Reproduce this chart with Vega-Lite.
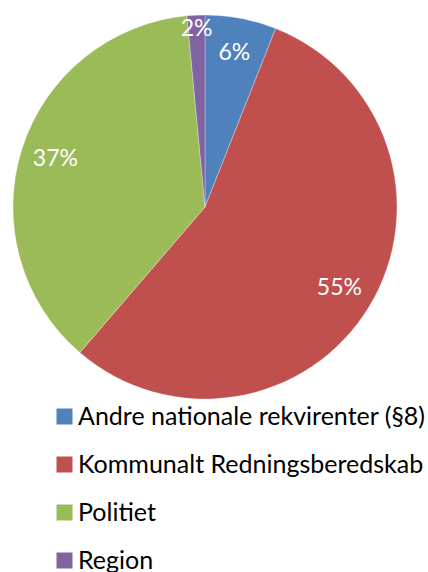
{
  "$schema": "https://vega.github.io/schema/vega-lite/v6.json",
  "width": 410,
  "height": 414,
  "padding": 0,
  "autosize": {"type": "pad"},
  "background": "white",
  "data": {
    "values": [
      {"category": "Andre nationale rekvirenter (§8)", "value": 6.0, "label": "6%", "order": 1},
      {"category": "Kommunalt Redningsberedskab", "value": 55.3, "label": "55%", "order": 2},
      {"category": "Politiet", "value": 37.2, "label": "37%", "order": 3},
      {"category": "Region", "value": 1.5, "label": "2%", "order": 4}
    ]
  },
  "encoding": {
    "theta": {"field": "value", "type": "quantitative", "stack": true},
    "order": {"field": "order", "type": "quantitative"},
    "color": {
      "field": "category",
      "type": "nominal",
      "scale": {
        "domain": ["Andre nationale rekvirenter (§8)", "Kommunalt Redningsberedskab", "Politiet", "Region"],
        "range": ["#4F81BD", "#C0504D", "#9BBB59", "#8064A2"]
      },
      "legend": {
        "title": null,
        "orient": "none",
        "legendX": 52,
        "legendY": 404,
        "symbolType": "square",
        "symbolSize": 256,
        "symbolStrokeWidth": 0,
        "symbolOpacity": 1,
        "labelFont": "Lato",
        "labelFontSize": 25,
        "labelColor": "#000000",
        "labelOffset": 1,
        "labelLimit": 400,
        "rowPadding": 22
      }
    }
  },
  "layer": [
    {
      "mark": {"type": "arc", "radius": 192, "stroke": "#ffffff", "strokeWidth": 0.5, "strokeOpacity": 0.6}
    },
    {
      "mark": {"type": "text", "radius": 157, "font": "Lato", "fontSize": 23, "fill": "#ffffff", "align": "center", "baseline": "middle"},
      "encoding": {
        "text": {"condition": {"test": "datum.value >= 3", "field": "label"}, "value": ""},
        "color": {"value": "#ffffff"}
      }
    },
    {
      "mark": {"type": "text", "radius": 178, "font": "Lato", "fontSize": 23, "fill": "#ffffff", "align": "center", "baseline": "middle"},
      "encoding": {
        "text": {"condition": {"test": "datum.value < 3", "field": "label"}, "value": ""},
        "color": {"value": "#ffffff"}
      }
    }
  ],
  "config": {"view": {"stroke": null}}
}
